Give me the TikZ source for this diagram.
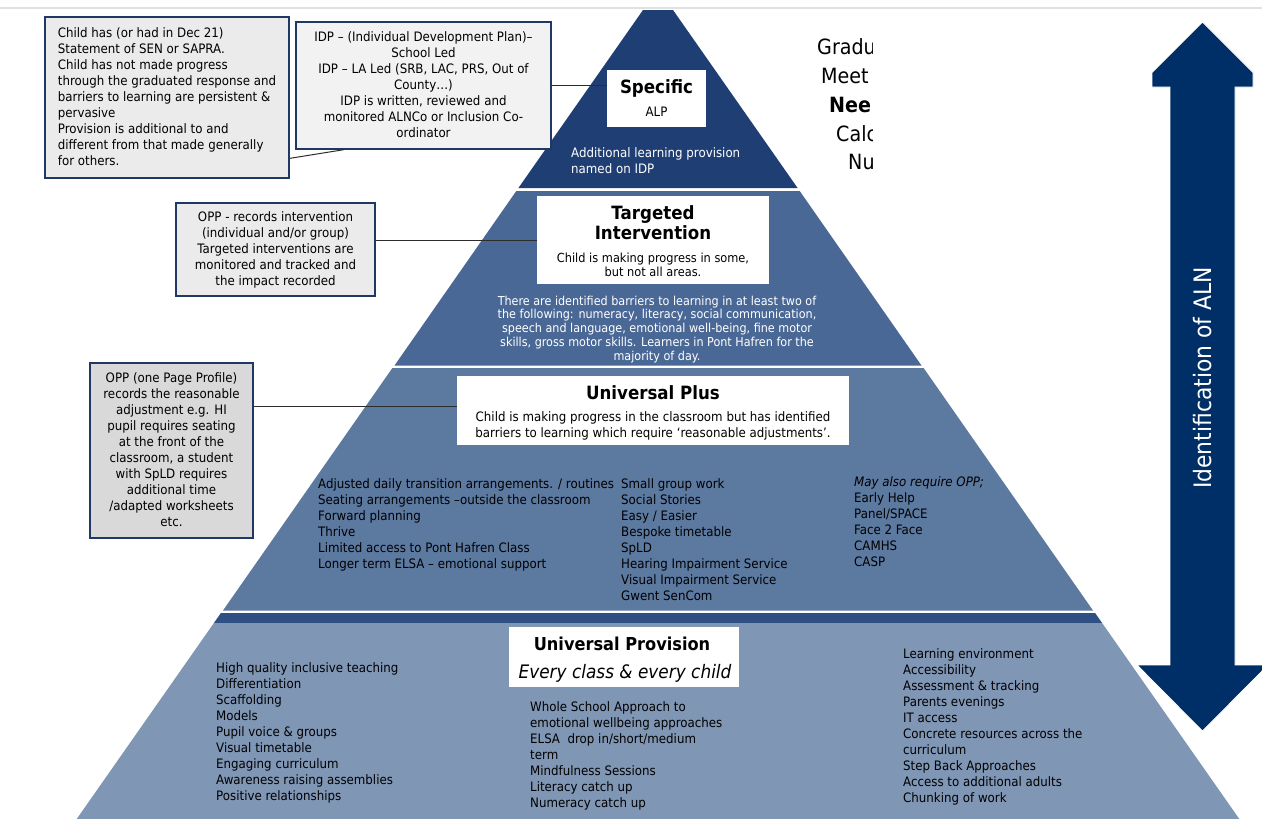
\documentclass[tikz,border=0pt]{standalone}
\usepackage{fontspec}
\setmainfont{DejaVu Sans}[FakeStretch=0.91]
\usetikzlibrary{calc}
\definecolor{specC}{RGB}{31,63,116}
\definecolor{targC}{RGB}{74,104,150}
\definecolor{uplusC}{RGB}{92,121,160}
\definecolor{bandC}{RGB}{46,80,130}
\definecolor{uprovC}{RGB}{128,150,181}
\definecolor{arrowC}{RGB}{0,46,102}
\definecolor{boxBorder}{RGB}{32,56,100}
\definecolor{greyA}{RGB}{235,235,235}
\definecolor{greyB}{RGB}{242,242,242}
\definecolor{greyC}{RGB}{217,217,217}
\definecolor{toplineC}{RGB}{225,225,225}
\definecolor{connC}{RGB}{45,45,45}
\newcommand{\hiStrut}{\rule{0pt}{12pt}}
\newcommand{\loStrut}{\rule[-3pt]{0pt}{3pt}}
\newcommand{\boxHiStrut}{\rule{0pt}{14pt}}
\newcommand{\boxLoStrut}{\rule[-1pt]{0pt}{1pt}}
\begin{document}
\begin{tikzpicture}[x=1pt,y=-1pt,
  sidebox/.style={draw=boxBorder, line width=1.3pt, inner sep=0pt,
    font=\fontsize{13}{16}\selectfont,
    execute at begin node=\boxHiStrut, execute at end node=\boxLoStrut},
  labelbox/.style={fill=white, inner sep=0pt},
  tierhead/.style={inner sep=0pt, font=\fontsize{18.3}{22}\selectfont\bfseries},
  plaintxt/.style={inner sep=0pt, font=\fontsize{13}{16}\selectfont},
  listtxt/.style={inner sep=0pt, font=\fontsize{13}{16}\selectfont, align=left,
    anchor=north west, execute at begin node=\strut},
  conn/.style={draw=connC, line width=1pt}
]
\useasboundingbox (0,0) rectangle (1262,819);
\fill[white] (0,0) rectangle (1262,819);
\fill[toplineC] (0,6.5) rectangle (1262,9.3);

% ---- pyramid tiers ----
\fill[specC] (643,10) -- (673,10) -- (797.6,188) -- (518.4,188) -- cycle;
\fill[targC] (516.3,191) -- (799.7,191) -- (921.5,365.5) -- (394.5,365.5) -- cycle;
\fill[uplusC] (392.4,368) -- (923.6,368) -- (1093,610.5) -- (223,610.5) -- cycle;
\fill[bandC] (220.9,613) -- (1095.1,613) -- (1102.1,623) -- (213.9,623) -- cycle;
\fill[uprovC] (213.9,623) -- (1102.1,623) -- (1239.3,819) -- (76.7,819) -- cycle;

% ---- double arrow ----
\fill[arrowC, draw=white, line width=0.8pt]
  (1202.5,22) -- (1253,72.5) -- (1253,87) -- (1235,87) -- (1235,665)
  -- (1268,665) -- (1202.5,731) -- (1137,665) -- (1170,665) -- (1170,87)
  -- (1152,87) -- (1152,72.5) -- cycle;
\node[inner sep=0pt, rotate=90, text=white, font=\fontsize{24}{28}\selectfont] (aln) at (1202.5,378) {Identification of ALN};

% ---- clipped heading text at top right ----
\begin{scope}
\clip (800,25) rectangle (872,180);
\node[inner sep=0pt, anchor=base west, font=\fontsize{21}{25}\selectfont] (g1) at (817,54.5) {Gradu};
\node[inner sep=0pt, anchor=base west, font=\fontsize{21}{25}\selectfont] (g2) at (821,83.5) {Meet};
\node[inner sep=0pt, anchor=base west, font=\fontsize{21}{25}\selectfont\bfseries] (g3) at (829,112.5) {Nee};
\node[inner sep=0pt, anchor=base west, font=\fontsize{21}{25}\selectfont] (g4) at (836,141.5) {Calc};
\node[inner sep=0pt, anchor=base west, font=\fontsize{21}{25}\selectfont] (g5) at (848,169.5) {Nu};
\end{scope}

% ---- white label boxes ----
\node[labelbox, minimum width=99pt, minimum height=57pt] (specBox) at (656.5,98.5) {};
\node[tierhead] (specT) at (656.5,88.5) {Specific};
\node[plaintxt] (specS) at (656.5,112) {ALP};
\node[listtxt, text=white] (specD) at (571,147) {Additional learning provision\\named on IDP};

\node[labelbox, minimum width=232pt, minimum height=88pt] (targBox) at (653,240) {};
\node[tierhead] (targT1) at (653,214.5) {Targeted};
\node[tierhead] (targT2) at (653,232.5) {Intervention};
\node[plaintxt, align=center, font=\fontsize{12.5}{14}\selectfont,
  execute at begin node=\hiStrut, execute at end node=\loStrut] (targS) at (653,266) {Child is making progress in some,\\but not all areas.};
\node[inner sep=0pt, align=center, text=white, font=\fontsize{12.3}{13.75}\selectfont,
  execute at begin node=\hiStrut, execute at end node=\loStrut] (targD) at (657,329.5)
  {There are identified barriers to learning in at least two of\\
   the following: numeracy, literacy, social communication,\\
   speech and language, emotional well-being, fine motor\\
   skills, gross motor skills. Learners in Pont Hafren for the\\
   majority of day.};

\node[labelbox, minimum width=392pt, minimum height=69pt] (upBox) at (653,410.5) {};
\node[tierhead] (upT) at (653,392.5) {Universal Plus};
\node[plaintxt, align=center, execute at begin node=\hiStrut, execute at end node=\loStrut] (upS) at (653,426)
  {Child is making progress in the classroom but has identified\\
   barriers to learning which require ‘reasonable adjustments’.};

\node[listtxt] (upL1) at (318,478) {Adjusted daily transition arrangements. / routines\\
  Seating arrangements –outside the classroom\\Forward planning\\Thrive\\
  Limited access to Pont Hafren Class\\Longer term ELSA – emotional support};
\node[listtxt] (upL2) at (621,478) {Small group work\\Social Stories\\Easy / Easier\\
  Bespoke timetable\\SpLD\\Hearing Impairment Service\\Visual Impairment Service\\Gwent SenCom};
\node[listtxt] (upL3) at (854,476) {\itshape May also require OPP;\\Early Help\\Panel/SPACE\\
  Face 2 Face\\CAMHS\\CASP};

\node[labelbox, minimum width=230pt, minimum height=60pt] (uprBox) at (624,657) {};
\node[tierhead, font=\fontsize{17.8}{21}\selectfont\bfseries] (uprT) at (622,643.5) {Universal Provision};
\node[inner sep=0pt, font=\fontsize{18.6}{23}\selectfont\itshape] (uprS) at (625,673) {Every class \& every child};

\node[listtxt] (uprL1) at (216,662) {High quality inclusive teaching\\Differentiation\\Scaffolding\\
  Models\\Pupil voice \& groups\\Visual timetable\\Engaging curriculum\\
  Awareness raising assemblies\\Positive relationships};
\node[listtxt] (uprL2) at (530,701) {Whole School Approach to\\emotional wellbeing approaches\\
  ELSA\ \ drop in/short/medium\\term\\Mindfulness Sessions\\Literacy catch up\\Numeracy catch up};
\node[listtxt] (uprL3) at (903,648) {Learning environment\\Accessibility\\Assessment \& tracking\\
  Parents evenings\\IT access\\Concrete resources across the\\curriculum\\
  Step Back Approaches\\Access to additional adults\\Chunking of work};

% ---- side boxes ----
\node[sidebox, fill=greyA, align=left, minimum width=244pt, minimum height=161pt] (boxA) at (167,97.5)
  {Child has (or had in Dec 21)\\
   Statement of SEN or SAPRA.\\
   Child has not made progress\\
   through the graduated response and\\
   barriers to learning are persistent \&\\
   pervasive\\
   Provision is additional to and\\
   different from that made generally\\
   for others.};
\node[sidebox, fill=greyB, align=center, minimum width=255pt, minimum height=127pt] (boxB) at (423.5,85.5)
  {IDP – (Individual Development Plan)–\\
   School Led\\
   IDP – LA Led (SRB, LAC, PRS, Out of\\
   County…)\\
   IDP is written, reviewed and\\
   monitored ALNCo or Inclusion Co-\\
   ordinator};
\node[sidebox, fill=greyA, align=center, minimum width=199pt, minimum height=93pt] (opp2) at (275.5,249.5)
  {OPP - records intervention\\
   (individual and/or group)\\
   Targeted interventions are\\
   monitored and tracked and\\
   the impact recorded};
\node[sidebox, fill=greyC, align=center, minimum width=163pt, minimum height=175pt] (opp3) at (171.5,450.5)
  {OPP (one Page Profile)\\
   records the reasonable\\
   adjustment e.g. HI\\
   pupil requires seating\\
   at the front of the\\
   classroom, a student\\
   with SpLD requires\\
   additional time\\
   /adapted worksheets\\
   etc.};

% ---- connectors ----
\draw[conn] ($(boxA.north east)!0.875!(boxA.south east)$) -- ($(boxB.south west)!0.19!(boxB.south east)$);
\draw[conn] (boxB.east) -- (boxB.east -| specBox.west);
\draw[conn] ($(opp2.north east)!0.4!(opp2.south east)$) coordinate (c2) -- (c2 -| targBox.west);
\draw[conn] ($(opp3.north east)!0.25!(opp3.south east)$) coordinate (c3) -- (c3 -| upBox.west);
\end{tikzpicture}
\end{document}
